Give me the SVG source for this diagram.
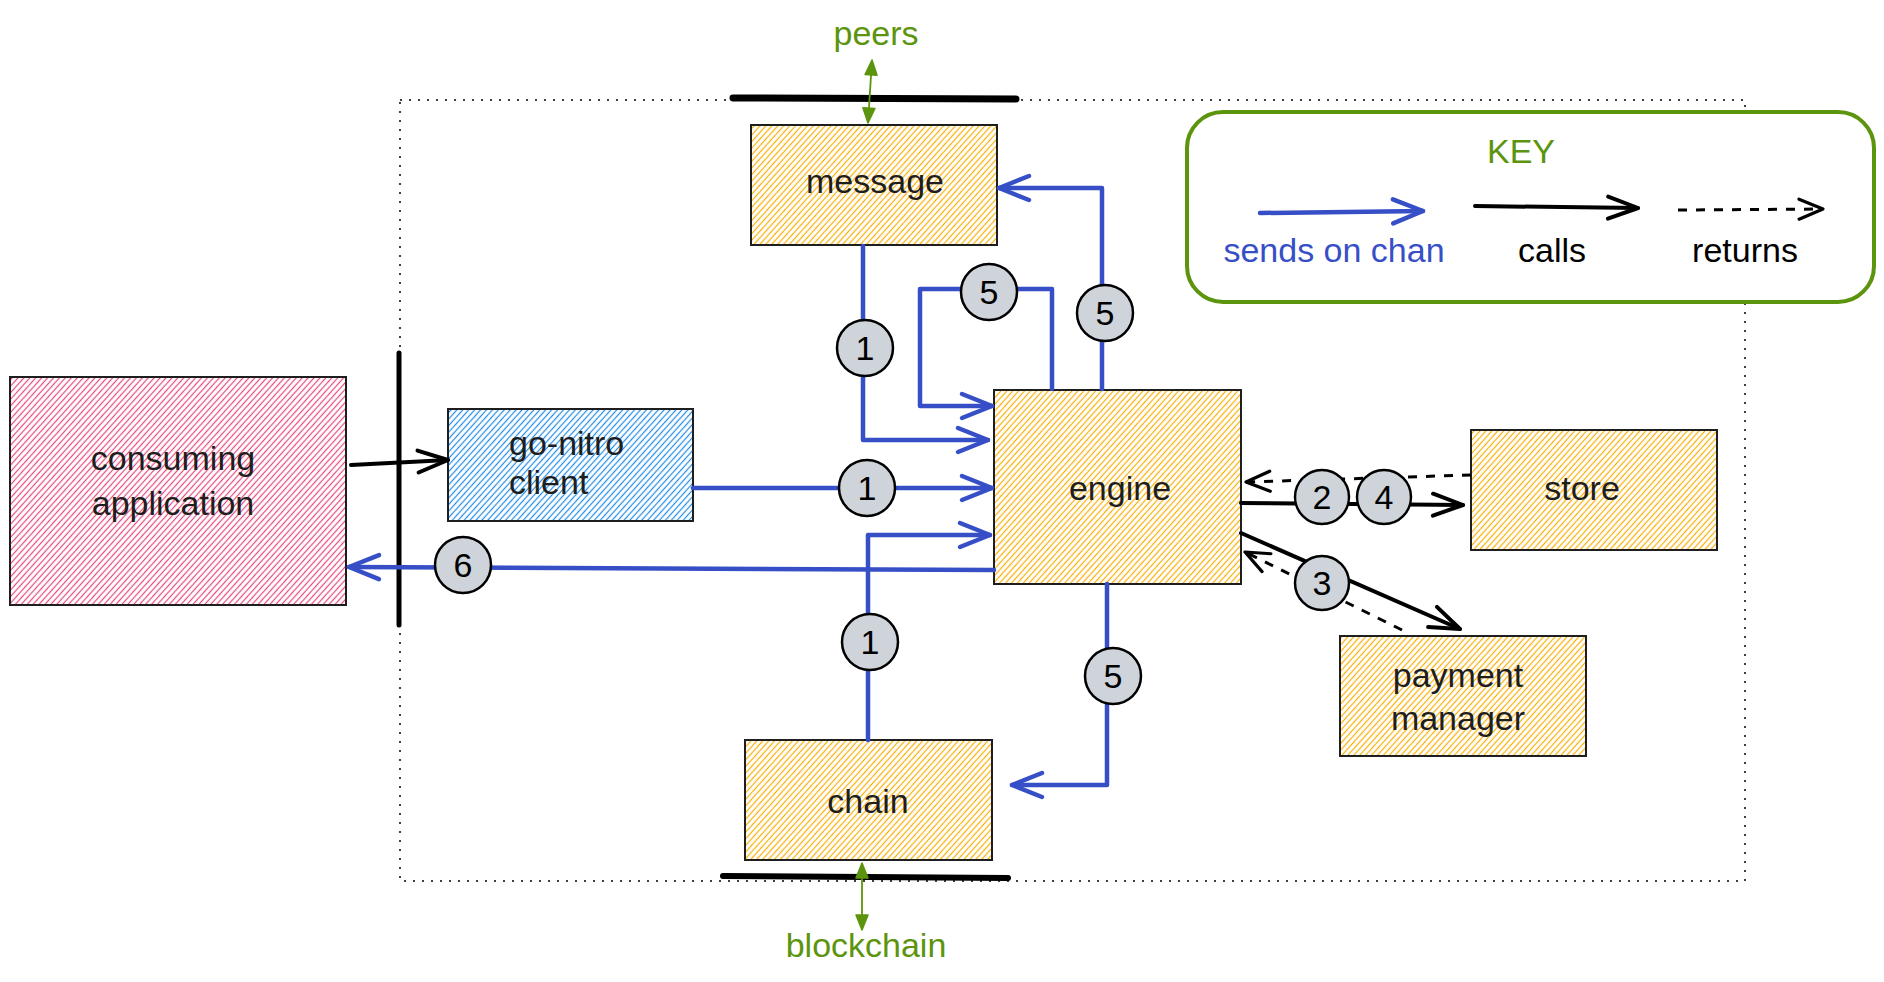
<svg xmlns="http://www.w3.org/2000/svg" width="1884" height="982" viewBox="0 0 1884 982">
<style>
.lbl{font-family:"Liberation Sans",Arial,sans-serif;font-size:34px;fill:#1e1e1e;text-anchor:middle}
.grn{font-family:"Liberation Sans",Arial,sans-serif;font-size:34px;fill:#5c940d;text-anchor:middle}
.key{font-family:"Liberation Sans",Arial,sans-serif;font-size:34px;text-anchor:middle}
.box{stroke:#1e1e1e;stroke-width:2}
.num{font-family:"Liberation Sans",Arial,sans-serif;font-size:34px;fill:#000;text-anchor:middle;dominant-baseline:central}
.badge{fill:#ced4da;stroke:#000;stroke-width:2.5}
.blue{fill:none;stroke:#364fc7;stroke-width:4.5;stroke-linecap:round;stroke-linejoin:round;marker-end:url(#mb)}
.call{fill:none;stroke:#000;stroke-width:4;stroke-linecap:round;marker-end:url(#mk)}
.ret{fill:none;stroke:#000;stroke-width:3;stroke-dasharray:9 9;marker-end:url(#mr)}
.bar{stroke:#000;stroke-linecap:round}
.ext{stroke:#5c940d;stroke-width:1.8;marker-start:url(#mg);marker-end:url(#mg)}
.hl{stroke-width:1.2}
</style>
<defs>
<pattern id="hy" width="4.4" height="10" patternUnits="userSpaceOnUse" patternTransform="rotate(42)"><rect width="4.4" height="10" fill="#fff"/><line class="hl" x1="2.2" y1="0" x2="2.2" y2="10" stroke="#fab005"/></pattern>
<pattern id="hp" width="4.4" height="10" patternUnits="userSpaceOnUse" patternTransform="rotate(42)"><rect width="4.4" height="10" fill="#fff"/><line class="hl" x1="2.2" y1="0" x2="2.2" y2="10" stroke="#e64980"/></pattern>
<pattern id="hb" width="4.4" height="10" patternUnits="userSpaceOnUse" patternTransform="rotate(42)"><rect width="4.4" height="10" fill="#fff"/><line class="hl" x1="2.2" y1="0" x2="2.2" y2="10" stroke="#228be6"/></pattern>
<marker id="mb" viewBox="-34 -16 38 32" refX="0" refY="0" markerWidth="38" markerHeight="32" markerUnits="userSpaceOnUse" orient="auto" overflow="visible"><path d="M-30,-12 L0,0 L-30,12" fill="none" stroke="#364fc7" stroke-width="4.5" stroke-linecap="round" stroke-linejoin="round"/></marker>
<marker id="mk" viewBox="-34 -16 38 32" refX="0" refY="0" markerWidth="38" markerHeight="32" markerUnits="userSpaceOnUse" orient="auto" overflow="visible"><path d="M-30,-11 L0,0 L-30,11" fill="none" stroke="#000" stroke-width="4" stroke-linecap="round" stroke-linejoin="round"/></marker>
<marker id="mr" viewBox="-30 -14 34 28" refX="0" refY="0" markerWidth="34" markerHeight="28" markerUnits="userSpaceOnUse" orient="auto" overflow="visible"><path d="M-24,-10 L0,0 L-24,10" fill="none" stroke="#000" stroke-width="3.2" stroke-linecap="round" stroke-linejoin="round"/></marker>
<marker id="mg" viewBox="-18 -8 20 16" refX="0" refY="0" markerWidth="20" markerHeight="16" markerUnits="userSpaceOnUse" orient="auto-start-reverse" overflow="visible"><path d="M-15,-6 L0,0 L-15,6 Z" fill="#5c940d" stroke="#5c940d" stroke-width="1.5" stroke-linejoin="round"/></marker>
</defs>
<rect width="1884" height="982" fill="#fff"/>

<g id="boundary">
<rect x="400" y="100" width="1345" height="781" fill="none" stroke="#000" stroke-width="1.5" stroke-dasharray="2 7"/>
<line class="bar" x1="733" y1="98" x2="1016" y2="99" stroke-width="7"/>
<line class="bar" x1="399" y1="353" x2="399" y2="625" stroke-width="5"/>
<line class="bar" x1="723" y1="876" x2="1008" y2="878" stroke-width="6"/>
</g>

<g id="peers">
<line class="ext" x1="872" y1="60" x2="868" y2="123"/>
<text class="grn" x="876" y="45">peers</text>
</g>
<g id="blockchain">
<line class="ext" x1="862" y1="863" x2="862" y2="930"/>
<text class="grn" x="866" y="957">blockchain</text>
</g>

<g id="key">
<rect x="1187" y="112" width="687" height="190" rx="36" fill="#fff" stroke="#5c940d" stroke-width="4"/>
<text class="key" x="1521" y="163" fill="#5c940d" font-size="32">KEY</text>
<path class="blue" d="M1260,213 L1423,211"/>
<path class="call" d="M1475,206 L1638,208"/>
<path class="ret" d="M1678,210 L1823,209" stroke-width="3.5"/>
<text class="key" x="1334" y="262" fill="#364fc7">sends on chan</text>
<text class="key" x="1552" y="262" fill="#000">calls</text>
<text class="key" x="1745" y="262" fill="#000">returns</text>
</g>

<g id="consuming-application">
<rect class="box" x="10" y="377" width="336" height="228" fill="url(#hp)"/>
<text class="lbl" x="173" y="470">consuming</text>
<text class="lbl" x="173" y="515">application</text>
</g>
<g id="go-nitro-client">
<rect class="box" x="448" y="409" width="245" height="112" fill="url(#hb)"/>
<text class="lbl" x="509" y="455" style="text-anchor:start">go-nitro</text>
<text class="lbl" x="509" y="494" style="text-anchor:start">client</text>
</g>
<g id="message">
<rect class="box" x="751" y="125" width="246" height="120" fill="url(#hy)"/>
<text class="lbl" x="875" y="193">message</text>
</g>
<g id="engine">
<rect class="box" x="994" y="390" width="247" height="194" fill="url(#hy)"/>
<text class="lbl" x="1120" y="500">engine</text>
</g>
<g id="store">
<rect class="box" x="1471" y="430" width="246" height="120" fill="url(#hy)"/>
<text class="lbl" x="1582" y="500">store</text>
</g>
<g id="payment-manager">
<rect class="box" x="1340" y="636" width="246" height="120" fill="url(#hy)"/>
<text class="lbl" x="1458" y="687">payment</text>
<text class="lbl" x="1458" y="730">manager</text>
</g>
<g id="chain">
<rect class="box" x="745" y="740" width="247" height="120" fill="url(#hy)"/>
<text class="lbl" x="868" y="813">chain</text>
</g>

<g id="connectors">
<path class="blue" d="M863,246 L863,440 L988,440"/>
<path class="blue" d="M693,488 L992,488"/>
<path class="blue" d="M868,740 L868,535 L990,535"/>
<path class="blue" d="M1052,389 L1052,289 L920,289 L920,406 L992,406"/>
<path class="blue" d="M1102,389 L1102,188 L999,188"/>
<path class="blue" d="M1107,584 L1107,785 L1012,785"/>
<path class="blue" d="M994,570 L349,567"/>
<path class="call" d="M351,465 L448,460"/>
<path class="call" d="M1241,503 L1463,505"/>
<path class="ret" d="M1471,475 L1246,482"/>
<path class="call" d="M1241,533 L1460,629"/>
<path class="ret" d="M1402,630 L1245,552"/>
</g>

<g id="badges">
<circle class="badge" cx="865" cy="348" r="28"/><text class="num" x="865" y="348">1</text>
<circle class="badge" cx="867" cy="488" r="28"/><text class="num" x="867" y="488">1</text>
<circle class="badge" cx="870" cy="642" r="28"/><text class="num" x="870" y="642">1</text>
<circle class="badge" cx="989" cy="292" r="28"/><text class="num" x="989" y="292">5</text>
<circle class="badge" cx="1105" cy="313" r="28"/><text class="num" x="1105" y="313">5</text>
<circle class="badge" cx="1113" cy="676" r="28"/><text class="num" x="1113" y="676">5</text>
<circle class="badge" cx="463" cy="565" r="28"/><text class="num" x="463" y="565">6</text>
<circle class="badge" cx="1322" cy="497" r="27"/><text class="num" x="1322" y="497">2</text>
<circle class="badge" cx="1384" cy="497" r="27"/><text class="num" x="1384" y="497">4</text>
<circle class="badge" cx="1322" cy="583" r="27"/><text class="num" x="1322" y="583">3</text>
</g>
</svg>
